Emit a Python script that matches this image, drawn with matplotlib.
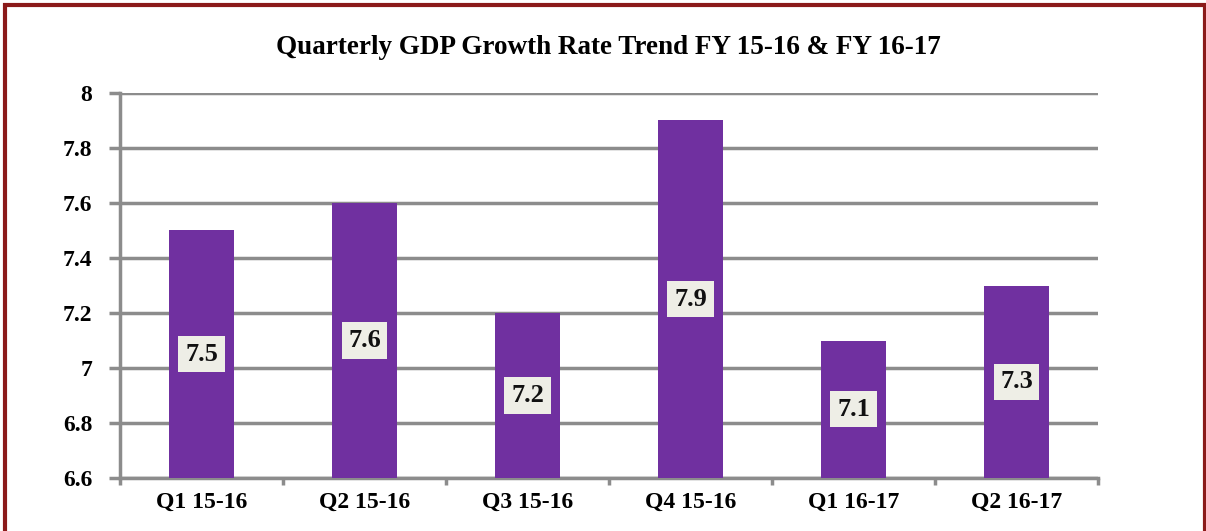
import matplotlib
matplotlib.use("Agg")
import matplotlib.pyplot as plt
from matplotlib.patches import Rectangle

quarters = ["Q1 15-16", "Q2 15-16", "Q3 15-16", "Q4 15-16", "Q1 16-17", "Q2 16-17"]
growth = [7.5, 7.6, 7.2, 7.9, 7.1, 7.3]
y_ticks = [6.6, 6.8, 7.0, 7.2, 7.4, 7.6, 7.8, 8.0]
y_tick_labels = ["6.6", "6.8", "7", "7.2", "7.4", "7.6", "7.8", "8"]
title = "Quarterly GDP Growth Rate Trend FY 15-16 & FY 16-17"

W, H = 1206, 531
fig = plt.figure(figsize=(W / 100, H / 100), dpi=100)
fig.patch.set_facecolor("white")

serif = ["Liberation Serif", "DejaVu Serif"]
bar_color = "#7030A0"
grid_color = "#8C8C8C"

# axes box in pixel space
x0, x1 = 120, 1098
y_top, y_bot = 93, 478
ax = fig.add_axes([x0 / W, 1 - y_bot / H, (x1 - x0) / W, (y_bot - y_top) / H])

ymin = y_ticks[0]
xs = list(range(len(quarters)))
ax.bar(xs, [v - ymin for v in growth], bottom=ymin, width=0.4,
       color=bar_color, zorder=3)

ax.set_xlim(-0.5, len(quarters) - 0.5)
ax.set_ylim(ymin, y_ticks[-1])

ax.set_yticks(y_ticks)
ax.set_yticklabels(y_tick_labels, fontfamily=serif, fontweight="bold", fontsize=17)
ax.yaxis.grid(True, color=grid_color, linewidth=2.5, zorder=1)
ax.set_axisbelow(True)

ax.set_xticks(xs)
ax.set_xticklabels(quarters, fontfamily=serif, fontweight="bold", fontsize=17)
ax.set_xticks([i - 0.5 for i in range(len(quarters) + 1)], minor=True)
ax.tick_params(axis="x", which="major", length=0, pad=10)
ax.tick_params(axis="x", which="minor", length=5, width=2.5, color=grid_color)
ax.tick_params(axis="y", length=8, width=2.5, color=grid_color, pad=12)

for side in ["top", "right"]:
    ax.spines[side].set_visible(False)
for side in ["left", "bottom"]:
    ax.spines[side].set_color(grid_color)
    ax.spines[side].set_linewidth(2.5)

# value labels in the middle of each bar
for x, v in zip(xs, growth):
    ax.text(x, (ymin + v) / 2, f"{v}", ha="center", va="center",
            fontfamily=serif, fontweight="bold", fontsize=19, color="#111111",
            bbox=dict(boxstyle="square,pad=0.25", facecolor="#EEEEE6",
                      edgecolor="none"), zorder=4)

fig.text(608 / W, 1 - 47 / H, title, ha="center", va="center",
         fontfamily=serif, fontweight="bold", fontsize=19.5)

# dark red frame around the figure
fig.patches.append(Rectangle((5 / W, -0.05), 1200 / W, 1.05 - 5 / H,
                             transform=fig.transFigure, fill=False,
                             edgecolor="#8B1A1A", linewidth=3))

fig.savefig("out.png", dpi=100)
